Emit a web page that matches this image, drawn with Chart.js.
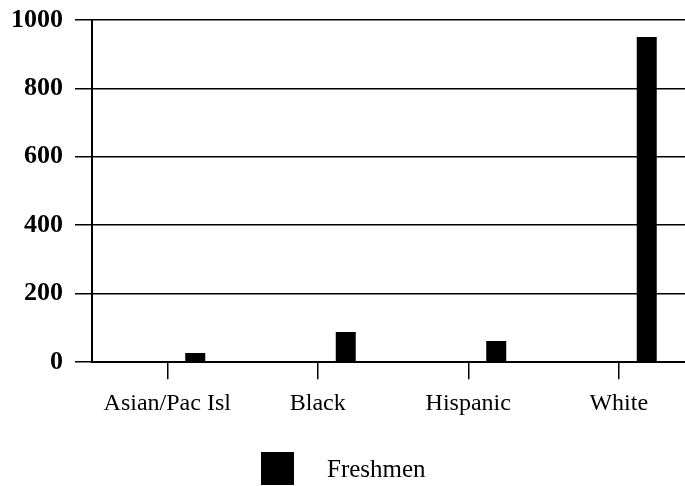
<!DOCTYPE html>
<html>
<head>
<meta charset="utf-8">
<script src="https://cdn.jsdelivr.net/npm/chart.js@4/dist/chart.umd.min.js"></script>
<style>
  html, body { margin: 0; padding: 0; background: #fff; overflow: hidden; }
  #wrap { width: 700px; height: 486px; position: relative; }
</style>
</head>
<body>
<div id="wrap"><canvas id="c"></canvas></div>
<script>
// Enrollment by race/ethnicity
const categories = ['Asian/Pac Isl', 'Black', 'Hispanic', 'White'];
const freshmen = [27, 88, 62, 950];
const emptySlot = [null, null, null, null];
const yTicks = [0, 200, 400, 600, 800, 1000];

const serif = '"Liberation Serif", "Times New Roman", serif';

// Legend drawn below the plot: filled square followed by the series name
const legendPlugin = {
  id: 'bottomLegend',
  afterDraw(chart) {
    const ds = chart.data.datasets[1];
    const ctx = chart.ctx;
    const box = 33;
    const gap = 33;
    const x0 = 261;
    const y0 = 452;
    ctx.save();
    ctx.fillStyle = ds.backgroundColor;
    ctx.fillRect(x0, y0, box, box);
    ctx.font = '25px ' + serif;
    ctx.fillStyle = '#000';
    ctx.textBaseline = 'alphabetic';
    ctx.fillText(ds.label, x0 + box + gap, 477);
    ctx.restore();
  }
};

new Chart(document.getElementById('c'), {
  type: 'bar',
  data: {
    labels: categories,
    datasets: [
      { label: '', data: emptySlot, backgroundColor: '#000' },
      { label: 'Freshmen', data: freshmen, backgroundColor: '#000' }
    ]
  },
  options: {
    responsive: true,
    maintainAspectRatio: false,
    animation: false,
    events: [],
    categoryPercentage: 0.744,
    barPercentage: 0.357,
    layout: { padding: { left: -1, right: 6, top: 0, bottom: 58 } },
    plugins: {
      legend: { display: false },
      tooltip: { enabled: false }
    },
    scales: {
      x: {
        offset: true,
        grid: {
          offset: false,
          drawOnChartArea: false,
          drawTicks: true,
          tickLength: 17,
          color: '#000',
          lineWidth: 1.5
        },
        border: { display: true, color: '#000', width: 2 },
        ticks: {
          color: '#000',
          padding: 10,
          font: { family: serif, size: 24 }
        }
      },
      y: {
        min: 0,
        max: 1000,
        afterBuildTicks(scale) { scale.ticks = yTicks.map(v => ({ value: v })); },
        grid: {
          color: '#000',
          lineWidth: 1.5,
          tickLength: 17,
          drawTicks: true
        },
        border: { display: true, color: '#000', width: 2 },
        ticks: {
          color: '#000',
          padding: 12,
          callback: v => String(v),
          font: { family: serif, size: 26, weight: 'bold', lineHeight: 0.6 }
        }
      }
    }
  },
  plugins: [legendPlugin]
});
</script>
</body>
</html>
